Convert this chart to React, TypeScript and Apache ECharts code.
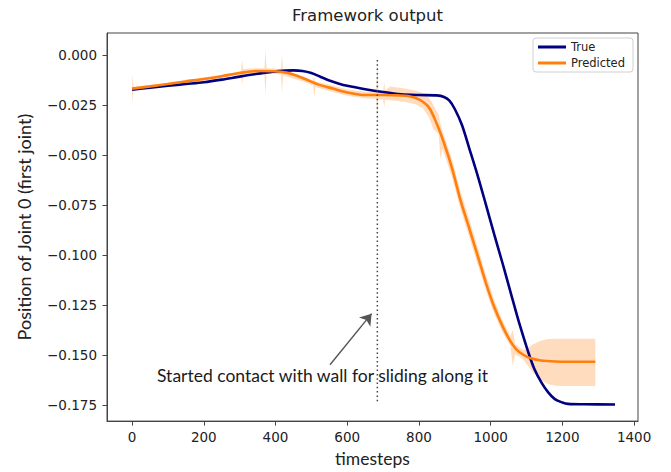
import React, { useEffect, useRef } from "react";
import * as echarts from "echarts";

// ---- data ----
const trueX = [0, 50, 100, 150, 200, 250, 300, 350, 400, 450, 475, 500, 525, 550, 575, 600, 650, 700, 750, 800, 850, 870, 885, 900, 920, 941, 965, 987, 1010, 1034, 1057, 1080, 1104, 1122, 1141, 1160, 1179, 1200, 1216, 1260, 1347];
const trueY = [-0.0173, -0.0163, -0.0154, -0.0145, -0.0136, -0.0123, -0.0108, -0.0094, -0.0082, -0.0077, -0.0080, -0.0090, -0.0109, -0.0127, -0.0142, -0.0154, -0.0171, -0.0185, -0.0196, -0.0200, -0.0202, -0.0210, -0.0228, -0.0270, -0.0350, -0.0470, -0.0610, -0.0749, -0.0897, -0.1046, -0.1195, -0.1342, -0.1480, -0.1570, -0.1635, -0.1685, -0.1720, -0.1737, -0.1744, -0.1746, -0.1747];

const predX = [0, 50, 100, 150, 200, 250, 300, 350, 400, 430, 460, 490, 520, 560, 600, 650, 700, 740, 770, 800, 828, 850, 870, 893, 915, 941, 965, 987, 1010, 1034, 1055, 1071, 1090, 1110, 1140, 1180, 1230, 1292];
const predY = [-0.0168, -0.0157, -0.0145, -0.0132, -0.0120, -0.0106, -0.0090, -0.0080, -0.0081, -0.0088, -0.0104, -0.0126, -0.0148, -0.0168, -0.0187, -0.0200, -0.0200, -0.0202, -0.0205, -0.0222, -0.0263, -0.0345, -0.0440, -0.0570, -0.0720, -0.0870, -0.1010, -0.1140, -0.1260, -0.1359, -0.1430, -0.1470, -0.1497, -0.1515, -0.1527, -0.1532, -0.1533, -0.1533];

const bandX = [0, 4, 50, 100, 150, 200, 250, 300, 304, 307, 310, 340, 369, 372, 375, 400, 415, 418, 421, 450, 480, 505, 508, 511, 560, 600, 650, 681, 684, 687, 700, 703, 706, 720, 740, 760, 790, 810, 828, 840, 855, 860, 866, 893, 915, 941, 965, 987, 1010, 1034, 1055, 1062, 1068, 1090, 1100, 1120, 1140, 1160, 1180, 1200, 1292];
const bandHi = [-0.0099, -0.0160, -0.0150, -0.0138, -0.0125, -0.0113, -0.0099, -0.0082, -0.0078, -0.0025, -0.0070, -0.0066, -0.0066, 0.0025, -0.0066, -0.0068, -0.0072, 0.0000, -0.0075, -0.0092, -0.0110, -0.0127, -0.0107, -0.0132, -0.0153, -0.0172, -0.0184, -0.0185, 0.0000, -0.0183, -0.0181, -0.0138, -0.0176, -0.0158, -0.0162, -0.0168, -0.0178, -0.0190, -0.0215, -0.0250, -0.0300, -0.0345, -0.0380, -0.0525, -0.0675, -0.0825, -0.0965, -0.1100, -0.1225, -0.1330, -0.1405, -0.1373, -0.1445, -0.1475, -0.1470, -0.1445, -0.1428, -0.1420, -0.1418, -0.1418, -0.1418];
const bandLo = [-0.0239, -0.0176, -0.0164, -0.0152, -0.0139, -0.0127, -0.0113, -0.0098, -0.0100, -0.0150, -0.0102, -0.0094, -0.0094, -0.0198, -0.0094, -0.0094, -0.0098, -0.0189, -0.0102, -0.0118, -0.0135, -0.0153, -0.0214, -0.0160, -0.0185, -0.0204, -0.0216, -0.0219, -0.0354, -0.0222, -0.0222, -0.0262, -0.0224, -0.0226, -0.0230, -0.0234, -0.0246, -0.0265, -0.0310, -0.0370, -0.0395, -0.0520, -0.0470, -0.0615, -0.0765, -0.0915, -0.1055, -0.1180, -0.1295, -0.1390, -0.1455, -0.1556, -0.1495, -0.1520, -0.1545, -0.1590, -0.1625, -0.1645, -0.1653, -0.1655, -0.1655];

const xTicks = [0, 200, 400, 600, 800, 1000, 1200, 1400];
const yTicks = [0, -0.025, -0.05, -0.075, -0.1, -0.125, -0.15, -0.175];

const contactStep = 684;
const contactSpan = [-0.0025, -0.1745];
const arrowTail = [552, -0.1548];
const arrowTip = [668, -0.1293];
const noteAt = [531, -0.1601];
const noteText = "Started contact with wall for sliding along it";

const TICK_FONT = "DejaVu Sans";
const LABEL_FONT = "Lato";

export default function App() {
  const ref = useRef<HTMLDivElement>(null);

  useEffect(() => {
    if (!ref.current) return;
    const chart = echarts.init(ref.current, null, { renderer: "svg" });
    const fmtY = (v: number) => {
      const s = Math.abs(v).toFixed(3);
      return v < -1e-9 ? "\u2212" + s : s;
    };
    chart.setOption({
      animation: false,
      backgroundColor: "#ffffff",
      title: {
        text: "Framework output",
        left: 292,
        top: 7,
        padding: 0,
        textStyle: { fontFamily: TICK_FONT, fontSize: 16.5, fontWeight: "normal", color: "#222" },
      },
      legend: {
        data: ["True", "Predicted"],
        orient: "vertical",
        left: 533,
        top: 38,
        padding: [3, 8, 3, 5],
        itemGap: 4,
        itemWidth: 28,
        itemHeight: 3,
        icon: "rect",
        selectedMode: false,
        backgroundColor: "rgba(255,255,255,0.8)",
        borderColor: "#d0d0d0",
        borderWidth: 1,
        borderRadius: 3,
        textStyle: { fontFamily: TICK_FONT, fontSize: 11.5, color: "#222" },
      },
      grid: {
        left: 107,
        right: 33,
        top: 33,
        bottom: 47,
        show: true,
        borderColor: "#444",
        borderWidth: 1,
        backgroundColor: "transparent",
      },
      xAxis: {
        type: "value",
        min: -70,
        max: 1411,
        name: "timesteps",
        nameLocation: "middle",
        nameGap: 27,
        nameTextStyle: { fontFamily: LABEL_FONT, fontSize: 17.5, color: "#222" },
        splitLine: { show: false },
        axisLine: { show: true, onZero: false, lineStyle: { color: "#444", width: 1 } },
        axisTick: { show: true, length: 4.5, customValues: xTicks, lineStyle: { color: "#444" } },
        axisLabel: {
          customValues: xTicks,
          margin: 9,
          formatter: (v: number) => String(v),
          fontFamily: TICK_FONT,
          fontSize: 13.5,
          color: "#222",
        },
      },
      yAxis: {
        type: "value",
        min: -0.183,
        max: 0.011,
        name: "Position of Joint 0 (first joint)",
        nameLocation: "middle",
        nameGap: 74,
        nameTextStyle: { fontFamily: LABEL_FONT, fontSize: 18, color: "#222" },
        splitLine: { show: false },
        axisLine: { show: true, onZero: false, lineStyle: { color: "#444", width: 1 } },
        axisTick: { show: true, length: 4.5, customValues: yTicks, lineStyle: { color: "#444" } },
        axisLabel: {
          customValues: yTicks,
          margin: 10,
          formatter: fmtY,
          fontFamily: TICK_FONT,
          fontSize: 13.5,
          color: "#222",
        },
      },
      series: [
        {
          type: "custom",
          name: "band",
          silent: true,
          z: 1,
          data: bandX.map((x, i) => [x, bandHi[i], bandLo[i]]),
          encode: { x: 0, y: [1, 2] },
          renderItem: (params: any, api: any) => {
            if (params.dataIndex !== 0) return null;
            const pts: number[][] = bandX.map((x, i) => api.coord([x, bandHi[i]]));
            for (let i = bandX.length - 1; i >= 0; i--) pts.push(api.coord([bandX[i], bandLo[i]]));
            return {
              type: "polygon",
              shape: { points: pts },
              style: { fill: "rgba(255,127,14,0.27)", stroke: "none" },
            };
          },
        },
        {
          type: "line",
          name: "True",
          z: 3,
          data: trueX.map((x, i) => [x, trueY[i]]),
          showSymbol: false,
          smooth: 0.3,
          color: "#000080",
          lineStyle: { color: "#000080", width: 2.6 },
        },
        {
          type: "line",
          name: "Predicted",
          z: 4,
          data: predX.map((x, i) => [x, predY[i]]),
          showSymbol: false,
          smooth: 0.3,
          color: "#ff7f0e",
          lineStyle: { color: "#ff7f0e", width: 2.6 },
        },
        {
          type: "line",
          name: "contact",
          z: 5,
          silent: true,
          data: [
            [contactStep, contactSpan[0]],
            [contactStep, contactSpan[1]],
          ],
          showSymbol: false,
          lineStyle: { color: "#444", width: 1.5, type: [1.5, 2.8] },
        },
        {
          type: "scatter",
          name: "note",
          z: 6,
          silent: true,
          symbolSize: 1,
          itemStyle: { color: "rgba(0,0,0,0)" },
          data: [noteAt],
          label: {
            show: true,
            position: "inside",
            formatter: noteText,
            fontFamily: LABEL_FONT,
            fontSize: 17.5,
            color: "#1a1a1a",
            textBorderWidth: 0,
            opacity: 1,
          },
          markLine: {
            silent: true,
            symbol: ["none", "arrow"],
            symbolSize: 11,
            label: { show: false },
            lineStyle: { color: "#555", width: 1.4, type: "solid" },
            data: [[{ coord: arrowTail }, { coord: arrowTip }]],
          },
        },
      ],
    });
    return () => chart.dispose();
  }, []);

  return (
    <div
      ref={ref}
      style={{ position: "fixed", left: 0, top: 0, width: 671, height: 472, background: "#fff" }}
    />
  );
}
